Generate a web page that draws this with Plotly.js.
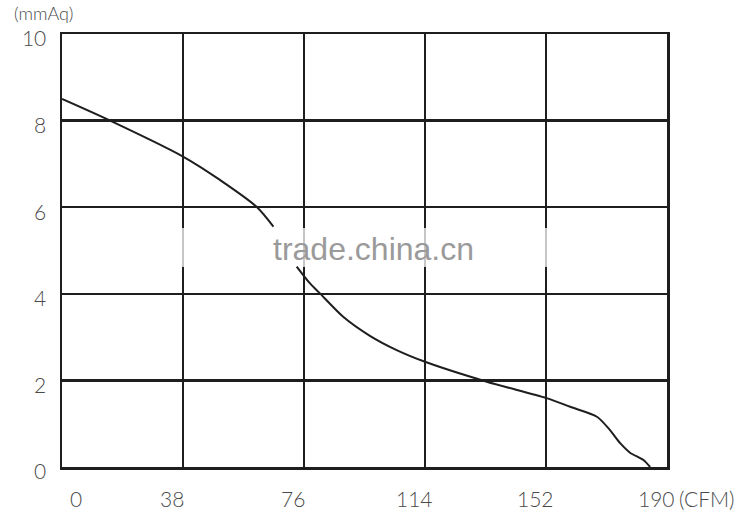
<!DOCTYPE html>
<html>
<head>
<meta charset="utf-8">
<script src="https://cdn.plot.ly/plotly-3.0.1.min.js"></script>
<style>
  html, body { margin: 0; padding: 0; background: #fff; }
  #chart { width: 749px; height: 519px; }
</style>
</head>
<body>
<div id="chart"></div>
<script>
// Fan P-Q curve: static pressure (mmAq) vs air flow (CFM)
const flowCfm = [0, 15.1, 38, 49.6, 61.1, 66.4, null, 73.7, 77.9, 81, 88.3, 96.7, 105.1, 114, 133.4, 152.2, 159.6, 168, 172.1, 175.3, 178.4, 182.6, 184.7];
const pressure = [8.5, 8.0, 7.17, 6.63, 6.01, 5.55, null, 4.63, 4.24, 4.01, 3.47, 3.03, 2.70, 2.43, 1.97, 1.59, 1.39, 1.16, 0.85, 0.55, 0.33, 0.16, 0];
const xTicks = [0, 38, 76, 114, 152, 190];
const yTicks = [0, 2, 4, 6, 8, 10];
const xUnit = '(CFM)';
const yUnit = '(mmAq)';
const watermark = 'trade.china.cn';

const FONT = 'Lato, "Open Sans", sans-serif';
const INK = '#1e1e1e';
const LABEL = '#4a4a4a';

const trace = {
    x: flowCfm, y: pressure, type: 'scatter', mode: 'lines',
    line: { color: INK, width: 2, shape: 'spline', smoothing: 0.8 },
    connectgaps: false, hoverinfo: 'skip', showlegend: false,
};

// x tick labels drawn as annotations so they can sit slightly off the grid lines like the original
const annotations = xTicks.map((v, i) => ({
    x: v, y: 0, xref: 'x', yref: 'y', yanchor: 'top', yshift: -17,
    xshift: i === 0 ? 14 : -11,
    text: String(v), showarrow: false,
    font: { family: FONT, size: 21, color: LABEL, weight: 300 },
}));
annotations.push({
    x: 190, y: 0, xref: 'x', yref: 'y', xanchor: 'left', yanchor: 'top', yshift: -17, xshift: 10,
    text: xUnit, showarrow: false, font: { family: FONT, size: 21, color: LABEL, weight: 300 },
});
annotations.push({
    x: 0, y: 1, xref: 'paper', yref: 'paper', xanchor: 'left', yanchor: 'bottom', xshift: -50, yshift: 8,
    text: yUnit, showarrow: false, font: { family: FONT, size: 18, color: LABEL, weight: 300 },
});
annotations.push({
    x: 0.515, y: 5.03, xref: 'paper', yref: 'y',
    text: watermark, showarrow: false, font: { family: '"Liberation Sans", Arial, sans-serif', size: 32, color: '#9a9a9a' },
});

// faded patches where the watermark halo breaks the vertical grid lines
const shapes = xTicks.map(v => ({
    type: 'rect', xref: 'x', yref: 'y', x0: v - 1.3, x1: v + 1.3, y0: 4.62, y1: 5.52,
    fillcolor: '#fff', opacity: 0.75, line: { width: 0 }, layer: 'above',
}));

const layout = {
    width: 749, height: 519,
    margin: { l: 62, r: 82, t: 34, b: 52 },
    paper_bgcolor: '#fff', plot_bgcolor: '#fff',
    font: { family: FONT, color: LABEL },
    xaxis: {
        range: [0, 190], tickvals: xTicks, showticklabels: false,
        showgrid: true, gridcolor: INK, gridwidth: 2.5, zeroline: false,
        showline: true, linecolor: INK, linewidth: 2.5, mirror: true, ticks: '',
        fixedrange: true,
    },
    yaxis: {
        range: [0, 10], tickvals: yTicks, ticktext: yTicks.map(String),
        showgrid: true, gridcolor: INK, gridwidth: 2.5, zeroline: false,
        showline: true, linecolor: INK, linewidth: 2.5, mirror: true, ticks: '',
        tickfont: { family: FONT, size: 21, color: LABEL, weight: 300 }, ticklabelstandoff: 9,
        ticklabelshift: 5,
        fixedrange: true,
    },
    annotations: annotations,
    shapes: shapes,
    showlegend: false,
};

Plotly.newPlot('chart', [trace], layout, { displayModeBar: false, staticPlot: true });
</script>
</body>
</html>
